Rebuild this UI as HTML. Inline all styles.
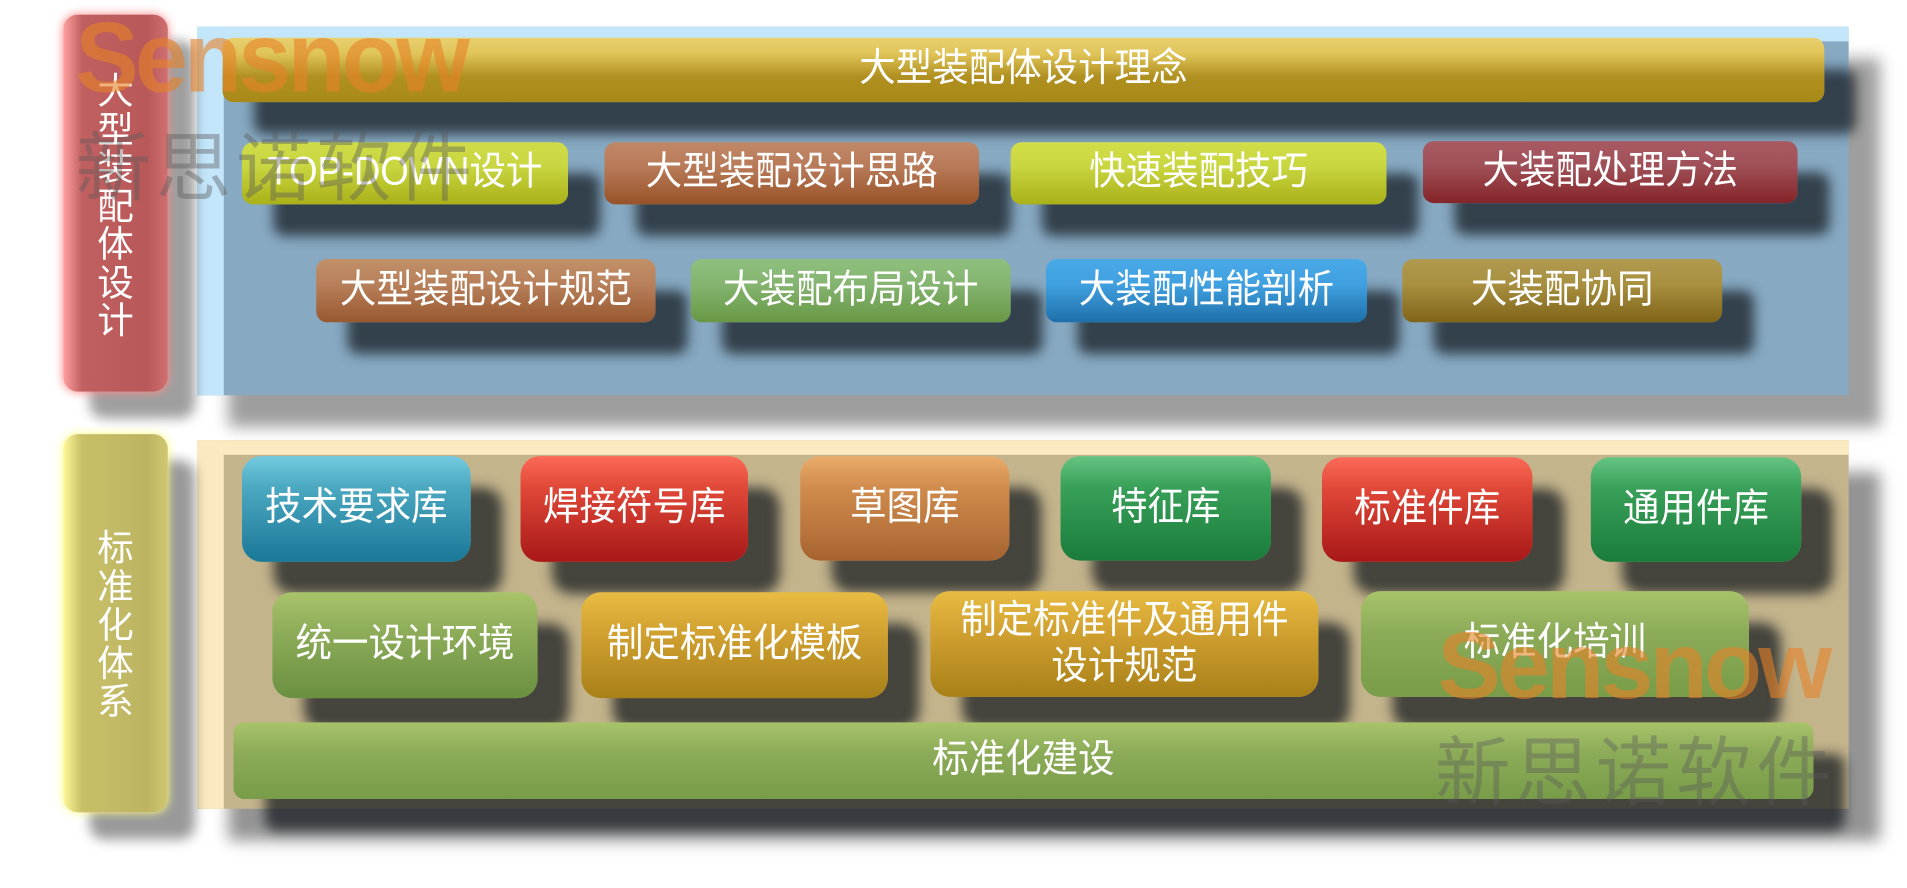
<!DOCTYPE html>
<html><head><meta charset="utf-8">
<style>
html,body{margin:0;padding:0;background:#fff;overflow:hidden;width:1907px;height:888px}
#c{position:absolute;left:0;top:0;width:1568px;height:730px;transform:scale(1.2162,1.2162);transform-origin:0 0;font-family:"Liberation Sans","Noto Sans CJK SC",sans-serif}
.a{position:absolute;box-sizing:border-box}
.b{position:absolute;box-sizing:border-box;border-radius:9px;color:#fff;display:flex;align-items:center;justify-content:center;text-align:center;font-size:30px;line-height:1.15;box-shadow:26px 26px 10px rgba(20,25,30,.72)}
.b span{display:inline-block;transform:scaleY(1.08)}
.vt{position:absolute;color:#fff;font-size:30px;line-height:31.5px;width:34px;text-align:center}
</style></head><body><div id="c">
<!-- top panel -->
<div class="a" style="left:162px;top:22px;width:1358px;height:303px;background:#87a9c2;border-left:22px solid #c4e6fb;border-top:12px solid #c4e6fb;box-shadow:26px 26px 12px rgba(0,0,0,.38)"></div>
<div class="a" style="left:52px;top:12px;width:86px;height:310px;border-radius:12px;background:linear-gradient(90deg,#ffa0a0 0%,#c06060 18%,#b85858 80%,#d07070 100%);box-shadow:0 0 8px #f88,22px 22px 10px rgba(0,0,0,.38)"></div>
<div class="vt" style="left:78px;top:60px">大<br>型<br>装<br>配<br>体<br>设<br>计</div>
<div class="b" style="left:183px;top:31px;width:1317px;height:53px;background:linear-gradient(#e8d070 0%,#e0c458 25%,#b09020 60%,#a88a18 100%)"><span>大型装配体设计理念</span></div>
<div class="b" style="left:199px;top:117px;width:268px;height:51px;background:linear-gradient(#cfdc48 0%,#c8d640 40%,#aab018 100%)"><span>TOP-DOWN设计</span></div>
<div class="b" style="left:497px;top:117px;width:308px;height:51px;background:linear-gradient(#c08868 0%,#b87a58 40%,#985228 100%)"><span>大型装配设计思路</span></div>
<div class="b" style="left:831px;top:117px;width:309px;height:51px;background:linear-gradient(#d2de48 0%,#c8d640 40%,#aab018 100%)"><span>快速装配技巧</span></div>
<div class="b" style="left:1170px;top:116px;width:308px;height:51px;background:linear-gradient(#a85a62 0%,#a05058 40%,#842428 100%)"><span>大装配处理方法</span></div>
<div class="b" style="left:260px;top:213px;width:279px;height:52px;background:linear-gradient(#c09068 0%,#b8805a 40%,#985830 100%)"><span>大型装配设计规范</span></div>
<div class="b" style="left:568px;top:213px;width:263px;height:52px;background:linear-gradient(#90c07e 0%,#84b470 40%,#689844 100%)"><span>大装配布局设计</span></div>
<div class="b" style="left:860px;top:213px;width:264px;height:52px;background:linear-gradient(#4aaae8 0%,#40a0e0 40%,#1e70aa 100%)"><span>大装配性能剖析</span></div>
<div class="b" style="left:1153px;top:213px;width:263px;height:52px;background:linear-gradient(#b09a50 0%,#a89040 40%,#806418 100%)"><span>大装配协同</span></div>
<!-- bottom panel -->
<div class="a" style="left:162px;top:362px;width:1358px;height:303px;background:#c4b48c;border-left:22px solid #fbe9c0;border-top:12px solid #fbe9c0;box-shadow:26px 26px 12px rgba(0,0,0,.42)"></div>
<div class="a" style="left:52px;top:357px;width:86px;height:311px;border-radius:12px;background:linear-gradient(90deg,#fff898 0%,#c8c068 18%,#bcb462 80%,#d0c870 100%);box-shadow:0 0 8px #ff8,22px 22px 10px rgba(0,0,0,.4)"></div>
<div class="vt" style="left:78px;top:436px">标<br>准<br>化<br>体<br>系</div>
<div class="b" style="left:199px;top:375px;width:188px;height:87px;border-radius:16px;background:linear-gradient(#72cae0 0%,#4aa8c0 30%,#1a7898 100%)"><span>技术要求库</span></div>
<div class="b" style="left:428px;top:375px;width:187px;height:87px;border-radius:16px;background:linear-gradient(#fc6a58 0%,#e04838 30%,#a81818 100%)"><span>焊接符号库</span></div>
<div class="b" style="left:658px;top:375px;width:172px;height:86px;border-radius:16px;background:linear-gradient(#eaac6c 0%,#d08c4c 30%,#a86430 100%)"><span>草图库</span></div>
<div class="b" style="left:872px;top:375px;width:173px;height:86px;border-radius:16px;background:linear-gradient(#66c482 0%,#38a058 30%,#1a7c3c 100%)"><span>特征库</span></div>
<div class="b" style="left:1087px;top:376px;width:173px;height:86px;border-radius:16px;background:linear-gradient(#fc6a58 0%,#e04838 30%,#a81818 100%)"><span>标准件库</span></div>
<div class="b" style="left:1308px;top:376px;width:173px;height:86px;border-radius:16px;background:linear-gradient(#66c482 0%,#38a058 30%,#1a7c3c 100%)"><span>通用件库</span></div>
<div class="b" style="left:224px;top:487px;width:218px;height:87px;border-radius:16px;background:linear-gradient(#a8c46a 0%,#8cab58 40%,#6a9040 100%)"><span>统一设计环境</span></div>
<div class="b" style="left:478px;top:487px;width:252px;height:87px;border-radius:16px;background:linear-gradient(#e8bc42 0%,#d0a030 40%,#a88018 100%)"><span>制定标准化模板</span></div>
<div class="b" style="left:765px;top:486px;width:319px;height:87px;border-radius:16px;background:linear-gradient(#e8bc42 0%,#d0a030 40%,#a88018 100%)"><span>制定标准件及通用件<br>设计规范</span></div>
<div class="b" style="left:1119px;top:486px;width:319px;height:87px;border-radius:16px;background:linear-gradient(#a8c46a 0%,#8cab58 40%,#789c48 100%)"><span>标准化培训</span></div>
<div class="b" style="left:192px;top:594px;width:1299px;height:63px;background:linear-gradient(#a8c46a 0%,#8cab58 40%,#789c48 100%)"><span>标准化建设</span></div>
<!-- watermarks -->
<div class="a" style="left:62px;top:2px;font:bold 78px 'Liberation Sans',sans-serif;color:rgba(230,130,40,.6);letter-spacing:-3px;transform:scaleY(1.05)">Sensnow</div>
<div class="a" style="left:62px;top:88px;font-size:62px;color:rgba(90,90,90,.42);letter-spacing:4px;font-family:'Noto Sans CJK SC',sans-serif">新思诺软件</div>
<div class="a" style="left:1182px;top:502px;font:bold 78px 'Liberation Sans',sans-serif;color:rgba(230,130,40,.6);letter-spacing:-3px">Sensnow</div>
<div class="a" style="left:1180px;top:585px;font-size:62px;color:rgba(90,90,90,.4);letter-spacing:4px;font-family:'Noto Sans CJK SC',sans-serif">新思诺软件</div>
</div></body></html>
